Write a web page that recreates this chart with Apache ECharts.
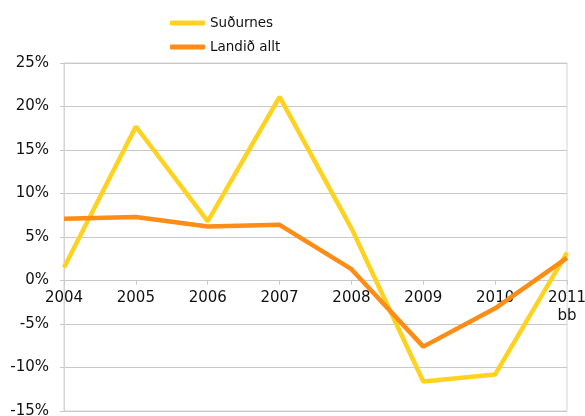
<!DOCTYPE html>
<html>
<head>
<meta charset="utf-8">
<script src="https://cdn.jsdelivr.net/npm/echarts@6/dist/echarts.min.js"></script>
<style>
  html, body { margin: 0; padding: 0; background: #fff; }
  #main { width: 585px; height: 416px; }
</style>
</head>
<body>
<div id="main"></div>
<script>
// ár
const years = ['2004', '2005', '2006', '2007', '2008', '2009', '2010', '2011\nbb'];
// breyting í %
const sudurnes = [1.5, 17.7, 6.8, 21.1, 6.0, -11.6, -10.8, 3.2];
const landidAllt = [7.1, 7.3, 6.2, 6.4, 1.3, -7.6, -3.2, 2.6];

const yMin = -15;
const yMax = 25;
const gridTop = 63;
const gridBottom = 5;

const chart = echarts.init(document.getElementById('main'));
const font = 'DejaVu Sans, sans-serif';

// x-ásinn liggur á 0-línunni
const plotH = 416 - gridTop - gridBottom;
const zeroOffset = -plotH * (0 - yMin) / (yMax - yMin);

chart.setOption({
    animation: false,
    textStyle: { fontFamily: font },
    legend: {
        orient: 'vertical',
        left: 165,
        top: 11,
        itemWidth: 35,
        itemHeight: 5,
        itemGap: 10,
        icon: 'roundRect',
        textStyle: { fontSize: 13.5, color: '#111', fontFamily: font },
        data: ['Suðurnes', 'Landið allt']
    },
    grid: {
        left: 64,
        right: 18,
        top: gridTop,
        bottom: gridBottom,
        outerBoundsMode: 'none',
        containLabel: false,
        show: true,
        borderColor: '#d4d4d4',
        borderWidth: 1
    },
    xAxis: {
        type: 'category',
        data: years,
        boundaryGap: false,
        position: 'bottom',
        offset: zeroOffset,
        axisLine: { onZero: false, lineStyle: { color: '#c8c8c8' } },
        axisTick: { show: true, length: 4, lineStyle: { color: '#c8c8c8' } },
        axisLabel: { fontSize: 15, color: '#111', margin: 9, lineHeight: 18, interval: 0 }
    },
    yAxis: {
        type: 'value',
        min: yMin,
        max: yMax,
        interval: 5,
        axisLine: { show: true, onZero: false, lineStyle: { color: '#d4d4d4' } },
        axisTick: { show: true, length: 4, lineStyle: { color: '#c8c8c8' } },
        splitLine: { lineStyle: { color: '#c8c8c8' } },
        axisLabel: { fontSize: 15, color: '#111', margin: 15, formatter: '{value}%' }
    },
    series: [
        {
            name: 'Suðurnes',
            type: 'line',
            data: sudurnes,
            symbol: 'none',
            color: '#FFD21F',
            lineStyle: { width: 4.5, color: '#FFD21F' }
        },
        {
            name: 'Landið allt',
            type: 'line',
            data: landidAllt,
            symbol: 'none',
            color: '#FF8C14',
            lineStyle: { width: 4.5, color: '#FF8C14' }
        }
    ]
});
</script>
</body>
</html>
